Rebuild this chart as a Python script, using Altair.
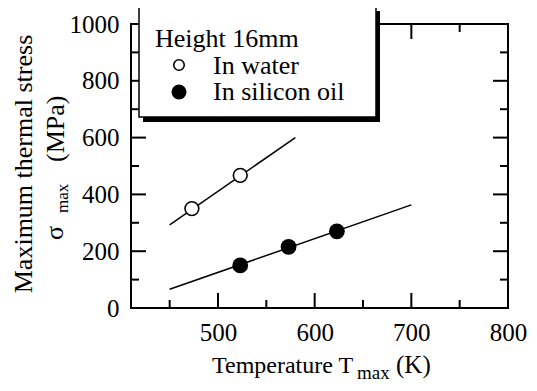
import altair as alt
import pandas as pd

# ---- data ----
water_T = [473, 523]
water_s = [350, 467]
oil_T = [523, 573, 623]
oil_s = [150, 215, 270]

water_fit_T = [450, 580]
water_fit_s = [293, 600]
oil_fit_T = [450, 700]
oil_fit_s = [66, 363]

x_labels = [500, 600, 700, 800]
y_labels = [0, 200, 400, 600, 800, 1000]
x_major = [500, 600, 700]
x_minor = [450, 550, 650, 750]
y_major = [200, 400, 600, 800]
y_minor = [100, 300, 500, 700, 900]

legend_title = "Height 16mm"
legend_items = ["In water", "In silicon oil"]
x_title_parts = ["Temperature T", "max", "(K)"]
y_title_line1 = "Maximum thermal stress"
y_title_parts = ["σ", "max", "(MPa)"]

FONT = "Liberation Serif"
W, H = 377, 284
MAJ, MIN = 15, 8

xs = alt.Scale(domain=[410, 800], nice=False, zero=False)
ys = alt.Scale(domain=[0, 1000], nice=False, zero=True)

xenc = alt.X("T:Q", scale=xs, axis=alt.Axis(values=x_labels, title=None, ticks=False, tickSize=0,
                                             domain=False, grid=False, labelFont=FONT, labelFontSize=25,
                                             labelPadding=12, labelColor="black", labelFlush=False,
                                             format="d"))
yenc = alt.Y("s:Q", scale=ys, axis=alt.Axis(values=y_labels, title=None, ticks=False, tickSize=0,
                                             domain=False, grid=False, labelFont=FONT, labelFontSize=25,
                                             labelPadding=12, labelColor="black", format="d"))

one = pd.DataFrame({"a": [0]})

water = pd.DataFrame({"T": water_T, "s": water_s})
oil = pd.DataFrame({"T": oil_T, "s": oil_s})
fits = pd.concat([
    pd.DataFrame({"T": water_fit_T, "s": water_fit_s, "series": "water"}),
    pd.DataFrame({"T": oil_fit_T, "s": oil_fit_s, "series": "oil"}),
])

layers = []

# frame
layers.append(alt.Chart(one).mark_rect(fillOpacity=0, stroke="black", strokeWidth=2).encode(
    x=alt.value(0), x2=alt.value(W), y=alt.value(0), y2=alt.value(H)))

# inward ticks
def yticks(vals, length):
    df = pd.DataFrame({"s": vals})
    left = alt.Chart(df).mark_rule(color="black", strokeWidth=2).encode(
        y=yenc, x=alt.value(0), x2=alt.value(length))
    right = alt.Chart(df).mark_rule(color="black", strokeWidth=2).encode(
        y=yenc, x=alt.value(W - length), x2=alt.value(W))
    return [left, right]

def xticks(vals, length):
    df = pd.DataFrame({"T": vals})
    bottom = alt.Chart(df).mark_rule(color="black", strokeWidth=2).encode(
        x=xenc, y=alt.value(H - length), y2=alt.value(H))
    top = alt.Chart(df).mark_rule(color="black", strokeWidth=2).encode(
        x=xenc, y=alt.value(0), y2=alt.value(length))
    return [bottom, top]

layers += yticks(y_major, MAJ) + yticks(y_minor, MIN) + xticks(x_major, MAJ) + xticks(x_minor, MIN)

# fit lines
layers.append(alt.Chart(fits).mark_line(color="black", strokeWidth=1.5).encode(
    x=xenc, y=yenc, detail="series:N"))

# points
layers.append(alt.Chart(water).mark_point(shape="circle", filled=True, fill="white", stroke="black",
                                          strokeWidth=1.6, size=190, opacity=1).encode(x=xenc, y=yenc))
layers.append(alt.Chart(oil).mark_point(shape="circle", filled=True, color="black",
                                        size=250, opacity=1).encode(x=xenc, y=yenc))

# legend box with shadow
layers.append(alt.Chart(one).mark_rect(color="black").encode(
    x=alt.value(12), x2=alt.value(249), y=alt.value(-13), y2=alt.value(98)))
layers.append(alt.Chart(one).mark_rect(fill="white", stroke="black", strokeWidth=1.5).encode(
    x=alt.value(8), x2=alt.value(245), y=alt.value(-17), y2=alt.value(93)))

def txt(s, x, y, size=26, angle=0, align="left"):
    return alt.Chart(one).mark_text(text=s, font=FONT, fontSize=size, angle=angle, align=align,
                                    baseline="alphabetic", color="black").encode(
        x=alt.value(x), y=alt.value(y))

layers.append(txt(legend_title, 24, 23))
layers.append(txt(legend_items[0], 82, 50))
layers.append(txt(legend_items[1], 82, 76))
layers.append(alt.Chart(one).mark_point(shape="circle", filled=True, fill="white", stroke="black",
                                        strokeWidth=1.6, size=110, opacity=1).encode(
    x=alt.value(48), y=alt.value(41)))
layers.append(alt.Chart(one).mark_point(shape="circle", filled=True, color="black",
                                        size=225, opacity=1).encode(
    x=alt.value(48), y=alt.value(68)))

# x title
layers.append(txt(x_title_parts[0], 81, 349, size=24))
layers.append(txt(x_title_parts[1], 226, 355, size=19))
layers.append(txt(x_title_parts[2], 265, 349, size=25))

# y title
layers.append(txt(y_title_line1, -99, 140, angle=270, align="center"))
layers.append(txt(y_title_parts[0], -68, 216, angle=270))
layers.append(txt(y_title_parts[1], -63, 189, size=17, angle=270))
layers.append(txt(y_title_parts[2], -67, 138, angle=270))

chart = alt.layer(*layers).properties(
    width=W, height=H,
    autosize=alt.AutoSizeParams(type="none"),
    padding={"left": 123, "top": 16, "right": 20, "bottom": 75},
    background="white",
).configure_view(stroke=None)

chart.save("out.html", embed_options={"renderer": "svg", "actions": False})
